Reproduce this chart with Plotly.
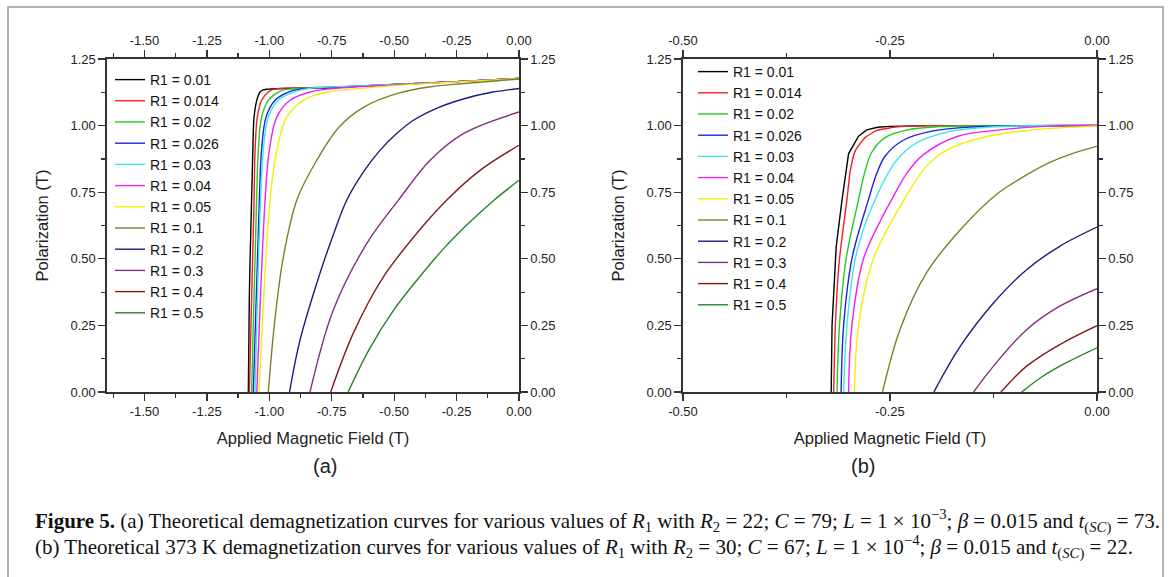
import plotly.graph_objects as go

# ---------------- data ----------------
r1_labels = ["R1 = 0.01", "R1 = 0.014", "R1 = 0.02", "R1 = 0.026", "R1 = 0.03", "R1 = 0.04",
             "R1 = 0.05", "R1 = 0.1", "R1 = 0.2", "R1 = 0.3", "R1 = 0.4", "R1 = 0.5"]

# Panel (a)
a_x_001 = [-1.084, -1.080, -1.071, -1.066, -1.061, -1.050, -1.037, -1.024, -1.0, -0.75, -0.5, -0.25, 0.0]
a_y_001 = [0.0, 0.36, 0.72, 0.907, 1.032, 1.095, 1.126, 1.134, 1.137, 1.144, 1.154, 1.165, 1.177]
a_x_0014 = [-1.080, -1.061, -1.057, -1.048, -1.031, -1.004, -0.984, -0.75, -0.5, -0.25, 0.0]
a_y_0014 = [0.0, 0.72, 0.907, 1.032, 1.095, 1.126, 1.136, 1.144, 1.154, 1.165, 1.177]
a_x_002 = [-1.071, -1.051, -1.044, -1.031, -1.004, -0.964, -0.93, -0.75, -0.5, -0.25, 0.0]
a_y_002 = [0.0, 0.72, 0.907, 1.032, 1.095, 1.126, 1.136, 1.143, 1.154, 1.165, 1.177]
a_x_0026 = [-1.064, -1.040, -1.031, -1.013, -0.977, -0.924, -0.877, -0.75, -0.5, -0.25, 0.0]
a_y_0026 = [0.0, 0.72, 0.907, 1.032, 1.095, 1.126, 1.137, 1.142, 1.154, 1.165, 1.177]
a_x_003 = [-1.057, -1.035, -1.024, -1.004, -0.964, -0.90, -0.85, -0.5, -0.25, 0.0]
a_y_003 = [0.0, 0.72, 0.907, 1.032, 1.095, 1.126, 1.138, 1.154, 1.165, 1.177]
a_x_004 = [-1.050, -1.017, -1.0, -0.970, -0.917, -0.837, -0.757, -0.5, -0.25, 0.0]
a_y_004 = [0.0, 0.72, 0.907, 1.032, 1.095, 1.126, 1.138, 1.153, 1.165, 1.177]
a_x_005 = [-1.041, -0.997, -0.970, -0.930, -0.864, -0.77, -0.65, -0.5, -0.25, 0.0]
a_y_005 = [0.0, 0.72, 0.907, 1.032, 1.095, 1.126, 1.138, 1.150, 1.164, 1.176]
a_x_01 = [-1.004, -0.98, -0.945, -0.89, -0.81, -0.72, -0.62, -0.49, -0.36, -0.22, 0.0]
a_y_01 = [0.0, 0.25, 0.5, 0.72, 0.87, 0.995, 1.07, 1.12, 1.145, 1.158, 1.175]
a_x_02 = [-0.919, -0.877, -0.797, -0.74, -0.69, -0.62, -0.557, -0.49, -0.423, -0.33, -0.223, -0.11, 0.0]
a_y_02 = [0.0, 0.195, 0.446, 0.60, 0.72, 0.83, 0.907, 0.97, 1.02, 1.065, 1.10, 1.125, 1.139]
a_x_03 = [-0.837, -0.744, -0.61, -0.483, -0.356, -0.223, 0.0]
a_y_03 = [0.0, 0.307, 0.557, 0.72, 0.87, 0.97, 1.051]
a_x_04 = [-0.754, -0.664, -0.543, -0.41, -0.29, -0.156, 0.0]
a_y_04 = [0.0, 0.22, 0.432, 0.595, 0.72, 0.832, 0.926]
a_x_05 = [-0.684, -0.6, -0.5, -0.4, -0.3, -0.2, -0.1, 0.0]
a_y_05 = [0.0, 0.16, 0.31, 0.43, 0.54, 0.635, 0.72, 0.795]

# Panel (b)
b_x_001 = [-0.321, -0.320, -0.315, -0.308, -0.300, -0.288, -0.278, -0.265, -0.250, -0.20, 0.0]
b_y_001 = [0.0, 0.25, 0.545, 0.72, 0.895, 0.96, 0.984, 0.994, 0.997, 1.0, 1.0]
b_x_0014 = [-0.318, -0.316, -0.311, -0.302, -0.298, -0.292, -0.280, -0.266, -0.238, -0.20, 0.0]
b_y_0014 = [0.0, 0.25, 0.5, 0.722, 0.83, 0.905, 0.955, 0.982, 0.996, 1.0, 1.0]
b_x_002 = [-0.314, -0.311, -0.303, -0.288, -0.280, -0.272, -0.256, -0.230, -0.19, -0.1, 0.0]
b_y_002 = [0.0, 0.25, 0.5, 0.722, 0.83, 0.90, 0.955, 0.983, 0.996, 1.0, 1.0]
b_x_0026 = [-0.309, -0.306, -0.296, -0.276, -0.266, -0.256, -0.234, -0.198, -0.149, -0.07, 0.0]
b_y_0026 = [0.0, 0.25, 0.5, 0.722, 0.82, 0.885, 0.945, 0.98, 0.995, 1.0, 1.0]
b_x_003 = [-0.306, -0.302, -0.292, -0.280, -0.268, -0.256, -0.242, -0.218, -0.178, -0.129, -0.06, 0.0]
b_y_003 = [0.0, 0.25, 0.5, 0.63, 0.722, 0.80, 0.87, 0.935, 0.978, 0.995, 1.0, 1.0]
b_x_004 = [-0.300, -0.296, -0.282, -0.262, -0.248, -0.230, -0.210, -0.169, -0.117, -0.057, 0.0]
b_y_004 = [0.0, 0.25, 0.5, 0.64, 0.722, 0.82, 0.89, 0.959, 0.984, 0.998, 1.002]
b_x_005 = [-0.293, -0.288, -0.270, -0.233, -0.206, -0.181, -0.133, -0.077, 0.0]
b_y_005 = [0.0, 0.25, 0.5, 0.722, 0.847, 0.909, 0.959, 0.984, 0.998]
b_x_01 = [-0.259, -0.238, -0.206, -0.165, -0.12, -0.085, -0.057, -0.03, 0.0]
b_y_01 = [0.0, 0.234, 0.447, 0.609, 0.745, 0.815, 0.862, 0.895, 0.922]
b_x_02 = [-0.197, -0.165, -0.125, -0.085, -0.045, 0.0]
b_y_02 = [0.0, 0.172, 0.334, 0.459, 0.547, 0.619]
b_x_03 = [-0.149, -0.125, -0.085, -0.045, 0.0]
b_y_03 = [0.0, 0.097, 0.234, 0.322, 0.388]
b_x_04 = [-0.116, -0.085, -0.045, 0.0]
b_y_04 = [0.0, 0.097, 0.178, 0.249]
b_x_05 = [-0.091, -0.065, -0.037, 0.0]
b_y_05 = [0.0, 0.06, 0.11, 0.166]

a_xticks = [-1.5, -1.25, -1.0, -0.75, -0.5, -0.25, 0.0]
a_xtick_text = ["-1.50", "-1.25", "-1.00", "-0.75", "-0.50", "-0.25", "0.00"]
b_xticks = [-0.5, -0.25, 0.0]
b_xtick_text = ["-0.50", "-0.25", "0.00"]
yticks = [0.0, 0.25, 0.5, 0.75, 1.0, 1.25]
ytick_text = ["0.00", "0.25", "0.50", "0.75", "1.00", "1.25"]

# ---------------- style ----------------
colors = ['#000000', '#ee2020', '#22cc22', '#2020e0', '#40e6e6', '#ee22ee',
          '#f0f000', '#7f7f2a', '#1c1c80', '#803080', '#801c1c', '#2a802a']
b_smooth = [0.0, 0.5, 1.0, 1.0, 1.0, 1.0, 1.0, 1.0, 1.0, 1.0, 1.0, 1.0]
W, H = 1170, 577
SANS = "Liberation Sans, Arial, sans-serif"
SERIF = "Liberation Serif, Times New Roman, serif"
AX = '#333333'

def px_x(p):
    return p / W

def px_y(p):
    return 1 - p / H

fig = go.Figure()

a_series = [(a_x_001, a_y_001), (a_x_0014, a_y_0014), (a_x_002, a_y_002), (a_x_0026, a_y_0026),
            (a_x_003, a_y_003), (a_x_004, a_y_004), (a_x_005, a_y_005), (a_x_01, a_y_01),
            (a_x_02, a_y_02), (a_x_03, a_y_03), (a_x_04, a_y_04), (a_x_05, a_y_05)]
b_series = [(b_x_001, b_y_001), (b_x_0014, b_y_0014), (b_x_002, b_y_002), (b_x_0026, b_y_0026),
            (b_x_003, b_y_003), (b_x_004, b_y_004), (b_x_005, b_y_005), (b_x_01, b_y_01),
            (b_x_02, b_y_02), (b_x_03, b_y_03), (b_x_04, b_y_04), (b_x_05, b_y_05)]

for i, (xs, ys) in enumerate(a_series):
    fig.add_trace(go.Scatter(x=xs, y=ys, mode='lines', name=r1_labels[i],
                             line=dict(color=colors[i], width=1.4, shape='spline', smoothing=1.0),
                             xaxis='x', yaxis='y', legend='legend'))
for i, (xs, ys) in enumerate(b_series):
    shape = 'linear' if b_smooth[i] == 0 else 'spline'
    line = dict(color=colors[i], width=1.4, shape=shape)
    if shape == 'spline':
        line['smoothing'] = b_smooth[i]
    fig.add_trace(go.Scatter(x=xs, y=ys, mode='lines', name=r1_labels[i], line=line,
                             xaxis='x3', yaxis='y3', legend='legend2'))
# carriers for the mirrored (top / right) labelled axes
fig.add_trace(go.Scatter(x=[None], y=[None], xaxis='x2', yaxis='y2', showlegend=False, hoverinfo='skip'))
fig.add_trace(go.Scatter(x=[None], y=[None], xaxis='x4', yaxis='y4', showlegend=False, hoverinfo='skip'))

tickfont = dict(family=SANS, size=13, color='#222222')
minor = dict(ticks='outside', ticklen=4, tickwidth=1.2, tickcolor=AX, dtick=0.125, tick0=0)

def xax(domain, rng, tv, tt, **kw):
    d = dict(domain=domain, range=rng, tickmode='array', tickvals=tv, ticktext=tt,
             ticks='outside', ticklen=7, tickwidth=1.3, tickcolor=AX, automargin=False,
             showline=True, linecolor=AX, linewidth=1.6, showgrid=False, zeroline=False,
             tickfont=tickfont, minor=minor, fixedrange=True)
    d.update(kw)
    return d

def yax(rng, **kw):
    d = dict(domain=[px_y(392), px_y(59)], range=rng, tickmode='array', tickvals=yticks,
             ticktext=ytick_text, ticks='outside', ticklen=7, tickwidth=1.3, tickcolor=AX,
             automargin=False,
             showline=True, linecolor=AX, linewidth=1.6, showgrid=False, zeroline=False,
             tickfont=tickfont, minor=minor, fixedrange=True)
    d.update(kw)
    return d

dom_a = [px_x(107), px_x(519)]
dom_b = [px_x(683), px_x(1097)]
title_font = dict(family=SANS, size=16.5, color='#222222')

fig.update_layout(
    width=W, height=577, margin=dict(l=0, r=0, t=0, b=0, autoexpand=False),
    paper_bgcolor='white', plot_bgcolor='white',
    xaxis=xax(dom_a, [-1.65, 0], a_xticks, a_xtick_text, anchor='y',
              title=dict(text='Applied Magnetic Field (T)', font=title_font, standoff=14)),
    xaxis2=xax(dom_a, [-1.65, 0], a_xticks, a_xtick_text, anchor='y', overlaying='x', side='top'),
    yaxis=yax([0, 1.25], anchor='x',
              title=dict(text='Polarization (T)', font=title_font, standoff=18)),
    yaxis2=yax([0, 1.25], anchor='x', overlaying='y', side='right'),
    xaxis3=xax(dom_b, [-0.5, 0], b_xticks, b_xtick_text, anchor='y3',
               title=dict(text='Applied Magnetic Field (T)', font=title_font, standoff=14)),
    xaxis4=xax(dom_b, [-0.5, 0], b_xticks, b_xtick_text, anchor='y3', overlaying='x3', side='top'),
    yaxis3=yax([0, 1.25], anchor='x3',
               title=dict(text='Polarization (T)', font=title_font, standoff=18)),
    yaxis4=yax([0, 1.25], anchor='x3', overlaying='y3', side='right'),
    legend=dict(x=px_x(110), y=px_y(64), xanchor='left', yanchor='top', bgcolor='rgba(0,0,0,0)',
                font=dict(family=SANS, size=14, color='#111111'), tracegroupgap=0, itemwidth=30),
    legend2=dict(x=px_x(693), y=px_y(56), xanchor='left', yanchor='top', bgcolor='rgba(0,0,0,0)',
                 font=dict(family=SANS, size=14, color='#111111'), tracegroupgap=0, itemwidth=30),
    hovermode=False,
)

fig.add_annotation(text='(a)', x=px_x(311), y=px_y(479), xref='paper', yref='paper',
                   showarrow=False, font=dict(family=SANS, size=20, color='#222222'))
fig.add_annotation(text='(b)', x=px_x(877), y=px_y(479), xref='paper', yref='paper',
                   showarrow=False, font=dict(family=SANS, size=20, color='#222222'))

cap1 = ("<b>Figure 5.</b> (a) Theoretical demagnetization curves for various values of "
        "<i>R</i><sub>1</sub> with <i>R</i><sub>2</sub> = 22; <i>C</i> = 79; <i>L</i> = 1 × 10<sup>−3</sup>; "
        "<i>β</i> = 0.015 and <i>t</i><sub>(<i>SC</i>)</sub> = 73.")
cap2 = ("(b) Theoretical 373 K demagnetization curves for various values of "
        "<i>R</i><sub>1</sub> with <i>R</i><sub>2</sub> = 30; <i>C</i> = 67; <i>L</i> = 1 × 10<sup>−4</sup>; "
        "<i>β</i> = 0.015 and <i>t</i><sub>(<i>SC</i>)</sub> = 22.")
fig.add_annotation(text=cap1, x=px_x(33), y=px_y(521), xref='paper', yref='paper', xanchor='left',
                   yanchor='middle', showarrow=False, font=dict(family=SERIF, size=21, color='#111111'))
fig.add_annotation(text=cap2, x=px_x(33), y=px_y(547), xref='paper', yref='paper', xanchor='left',
                   yanchor='middle', showarrow=False, font=dict(family=SERIF, size=21, color='#111111'))

fig.add_shape(type='rect', xref='paper', yref='paper', x0=px_x(8), x1=px_x(1163), y0=-0.03, y1=px_y(7),
              line=dict(color='#9a9a9a', width=1.5), fillcolor='rgba(0,0,0,0)', layer='below')

fig.write_html("out.html", config={'displayModeBar': False, 'staticPlot': True},
               post_script="document.body.style.margin='0px';document.body.style.overflow='hidden';")
